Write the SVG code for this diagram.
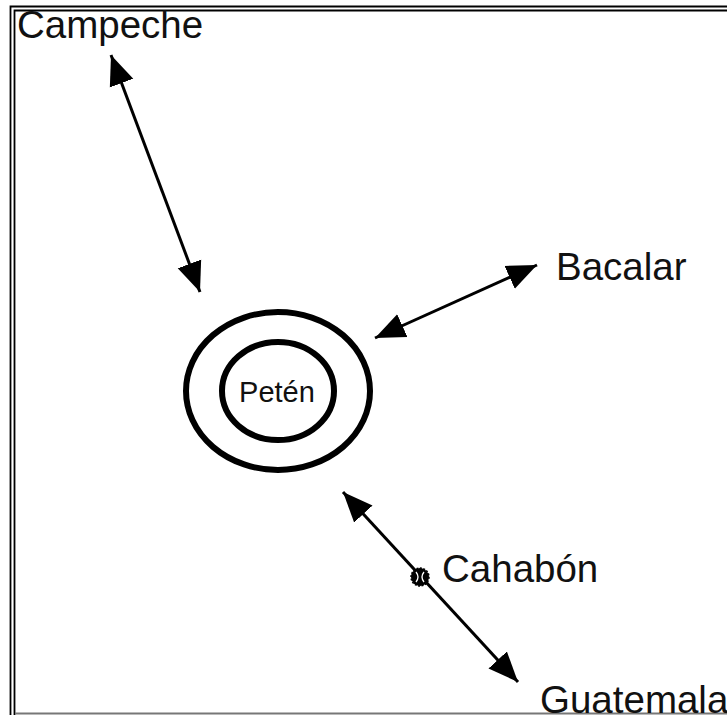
<svg xmlns="http://www.w3.org/2000/svg" width="727" height="715" viewBox="0 0 727 715">
<style>
.lbl{font-family:"Liberation Sans",Arial,sans-serif;fill:#111;}
.big{font-size:38.5px;}
.conn{stroke:#000;stroke-width:3;fill:none;marker-start:url(#ah);marker-end:url(#ah);}
.frame{stroke:#000;stroke-width:1.8;fill:none;}
.ring{stroke:#000;stroke-width:6;fill:none;}
</style>
<defs>
<marker id="ah" markerUnits="userSpaceOnUse" markerWidth="30" markerHeight="30" viewBox="0 0 24 20" refX="24" refY="10" orient="auto-start-reverse">
<path d="M0,0 L24,10 L0,20 Z" fill="#000"/>
</marker>
</defs>
<rect width="727" height="715" fill="#fff"/>
<g id="frame">
<path class="frame" d="M10.5,715 V6.5 H727"/>
<path class="frame" d="M14.5,715 V10.5 H727"/>
<path d="M15,713.5 H727" stroke="#777" stroke-width="2"/>
</g>
<g id="connectors">
<line class="conn" x1="111" y1="55" x2="200" y2="292"/>
<line class="conn" x1="375" y1="338" x2="537" y2="265"/>
<line class="conn" x1="343" y1="492" x2="518" y2="682"/>
</g>
<g id="peten">
<ellipse class="ring" cx="278" cy="391" rx="92" ry="79"/>
<ellipse class="ring" cx="278" cy="391" rx="56" ry="49"/>
<text class="lbl" x="277" y="402" font-size="29" text-anchor="middle">Petén</text>
</g>
<g id="campeche">
<text class="lbl big" x="17" y="38">Campeche</text>
</g>
<g id="bacalar">
<text class="lbl big" x="556" y="280">Bacalar</text>
</g>
<g id="cahabon">
<circle cx="420" cy="577" r="9" fill="#000" stroke="#000" stroke-width="1.5" stroke-dasharray="2 1.5"/>
<path d="M416,572 Q420,577 416,582 M424,572 Q420,577 424,582" stroke="#fff" stroke-width="1.3" fill="none"/>
<text class="lbl big" x="442" y="582">Cahabón</text>
</g>
<g id="guatemala">
<text class="lbl big" x="540" y="713">Guatemala</text>
</g>
</svg>
